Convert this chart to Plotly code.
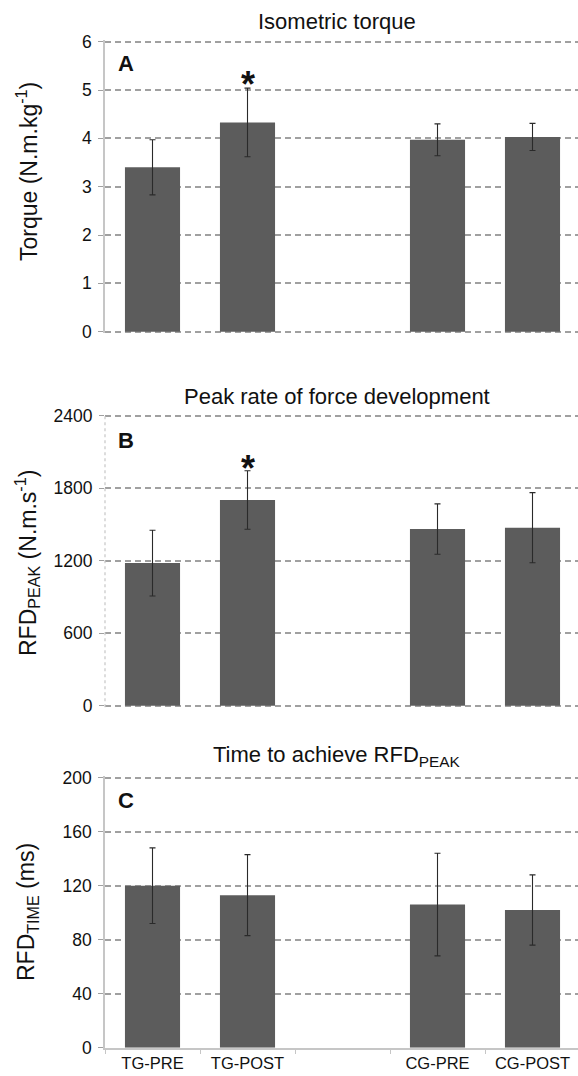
import plotly.graph_objects as go

# ---------------- data ----------------
categories = ["TG-PRE", "TG-POST", " ", "CG-PRE", "CG-POST"]
groups = ["TG-PRE", "TG-POST", "CG-PRE", "CG-POST"]

torque_mean = [3.40, 4.33, 3.97, 4.03]
torque_sd = [0.57, 0.71, 0.33, 0.28]

rfd_peak_mean = [1180, 1702, 1462, 1473]
rfd_peak_sd = [272, 242, 208, 290]

rfd_time_mean = [120, 113, 106, 102]
rfd_time_sd = [28, 30, 38, 26]

titles = ["Isometric torque", "Peak rate of force development",
          "Time to achieve RFD<sub>PEAK</sub>"]
ytitles = ["Torque (N.m.kg<sup>-1</sup>)", "RFD<sub>PEAK</sub> (N.m.s<sup>-1</sup>)",
           "RFD<sub>TIME</sub> (ms)"]
panel_letters = ["A", "B", "C"]
y_ticks = [[0, 1, 2, 3, 4, 5, 6], [0, 600, 1200, 1800, 2400], [0, 40, 80, 120, 160, 200]]
sig_group = "TG-POST"

# ---------------- layout helpers ----------------
W, H = 578, 1076
FONT = "Liberation Sans, Arial, sans-serif"
BAR = "#5c5c5c"
GRID = "#a0a0a0"
AXIS = "#c6c6c6"
TXT = "#111111"


def fx(px):
    return px / W


def fy(py):
    return 1 - py / H


x_left = 105
cat_w = 95
x_range = [-0.5, -0.5 + (W - x_left) / cat_w]
panels_px = [(41.7, 331.7), (415.7, 705.7), (777.7, 1047.7)]
title_y = [21, 397, 756]
ytitle_y = [172, 563, 912]
PAD = 1.5  # px of padding so that the end gridlines are drawn

means = [torque_mean, rfd_peak_mean, rfd_time_mean]
sds = [torque_sd, rfd_peak_sd, rfd_time_sd]
star_px = {0: 75, 1: 460}

fig = go.Figure()
annotations = []
shapes = []

for i in range(3):
    n = "" if i == 0 else str(i + 1)
    xa, ya = "x" + n, "y" + n
    fig.add_trace(go.Scatter(x=categories, y=[None] * len(categories), xaxis=xa, yaxis=ya,
                             mode="markers", showlegend=False, hoverinfo="skip"))
    fig.add_trace(go.Bar(
        x=groups, y=means[i], xaxis=xa, yaxis=ya,
        width=0.58, marker=dict(color=BAR, line=dict(width=0)),
        error_y=dict(type="data", array=sds[i], visible=True,
                     color="#2a2a2a", thickness=1.1, width=3),
        showlegend=False,
    ))
    top, bot = panels_px[i]
    last = (i == 2)
    y0, y1 = y_ticks[i][0], y_ticks[i][-1]
    per_px = (y1 - y0) / (bot - top)
    pad_bot = 0 if last else PAD
    rng = [y0 - pad_bot * per_px, y1 + PAD * per_px]
    fig.layout["xaxis" + n] = dict(
        domain=[fx(x_left), 1], anchor=ya, range=x_range,
        type="category", categoryorder="array", categoryarray=categories,
        showgrid=False, zeroline=False,
        showline=last, linecolor=AXIS, linewidth=1.5,
        ticks="outside" if last else "", tickson="boundaries", ticklen=5,
        tickcolor=AXIS, tickwidth=1,
        showticklabels=last,
        tickfont=dict(family=FONT, size=16.5, color=TXT),
    )
    fig.layout["yaxis" + n] = dict(
        domain=[fy(bot + pad_bot), fy(top - PAD)], anchor=xa,
        range=rng,
        tickvals=y_ticks[i], ticktext=[str(v) for v in y_ticks[i]],
        showgrid=True, gridcolor=GRID, gridwidth=1.8, griddash="6px,4px",
        zeroline=False,
        showline=(i != 1), linecolor=AXIS, linewidth=1.5,
        ticks="outside", ticklen=5, tickcolor=GRID, tickwidth=1,
        ticklabelstandoff=3,
        tickfont=dict(family=FONT, size=17.5, color=TXT),
    )
    if i == 1:
        shapes.append(dict(type="line", xref="x2 domain", yref="y2 domain",
                           x0=0, x1=0, y0=0, y1=1, layer="above",
                           line=dict(color=AXIS, width=1.2, dash="dot")))
    annotations.append(dict(text=titles[i], xref="x" + n + " domain", x=0.49,
                            yref="paper", y=fy(title_y[i]), xanchor="center",
                            yanchor="middle", showarrow=False,
                            font=dict(family=FONT, size=22, color=TXT)))
    annotations.append(dict(text=ytitles[i], xref="paper", x=fx(27), yref="paper",
                            y=fy(ytitle_y[i]), xanchor="center", yanchor="middle",
                            textangle=-90, showarrow=False,
                            font=dict(family=FONT, size=23, color=TXT)))
    annotations.append(dict(text="<b>" + panel_letters[i] + "</b>", xref="paper",
                            x=fx(126), yref="paper",
                            y=fy([63.5, 440, 800][i]), xanchor="center", yanchor="middle",
                            showarrow=False, font=dict(family=FONT, size=22, color=TXT)))
    if i in star_px:
        annotations.append(dict(text="<b>*</b>", xref=xa, x=sig_group, yref="paper",
                                y=fy(star_px[i] + 9), xanchor="center", yanchor="middle",
                                showarrow=False, font=dict(family=FONT, size=36, color=TXT)))

fig.update_layout(
    width=W, height=H,
    margin=dict(l=0, r=0, t=0, b=0, autoexpand=False),
    paper_bgcolor="white", plot_bgcolor="white",
    annotations=annotations, shapes=shapes,
    showlegend=False,
)

fig.write_html("out.html", config={"displayModeBar": False},
               post_script="document.body.style.margin='0';")
